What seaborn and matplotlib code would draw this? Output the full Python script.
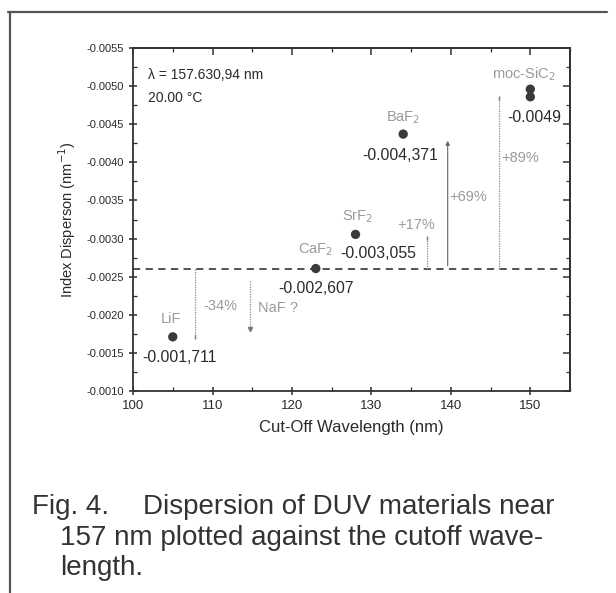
import matplotlib
matplotlib.use('Agg')
import matplotlib.pyplot as plt
from matplotlib.lines import Line2D
from matplotlib.ticker import MultipleLocator, FuncFormatter, NullFormatter
import seaborn as sns
import pandas as pd

# data
materials = ['LiF', 'CaF$_2$', 'SrF$_2$', 'BaF$_2$', 'moc-SiC$_2$', 'moc-SiC$_2$']
cutoff_nm = [105, 123, 128, 134, 150, 150]
dispersion = [-0.001711, -0.002607, -0.003055, -0.004371, -0.00496, -0.00486]
value_labels = ['-0.001,711', '-0.002,607', '-0.003,055', '-0.004,371', '-0.0049']

ref_level = -0.002607  # CaF2 reference line
change_x = [107.8, 114.7, 137.0, 139.6, 146.0]
change_start = [-0.002607, -0.00245, -0.002607, -0.002607, -0.002607]
change_end = [-0.00171, -0.00181, -0.00301, -0.00432, -0.00485]
change_text = ['-34%', 'NaF ?', '+17%', '+69%', '+89%']

df = pd.DataFrame({'material': materials, 'cutoff': cutoff_nm, 'disp': dispersion})

sns.set_style('ticks')
plt.rcParams['font.family'] = ['Liberation Sans', 'DejaVu Sans']
plt.rcParams['axes.unicode_minus'] = False

fig = plt.figure(figsize=(6.16, 5.93), dpi=100)
ax = fig.add_axes([0.216, 0.3406, 0.7094, 0.5784])

dark = '#2a2a2a'
grey = '#9a9a9a'

ax.axhline(ref_level, color='#444444', lw=1.3, ls=(0, (4, 3)), zorder=1)

for i, (x, y0, y1) in enumerate(zip(change_x, change_start, change_end)):
    if i == 3:
        ax.annotate('', xy=(x, y1), xytext=(x, y0),
                    arrowprops=dict(arrowstyle='-|>', color='#666666', lw=0.8, mutation_scale=6))
    else:
        ax.plot([x, x], [y0, y1], color='#888888', lw=0.9, ls=(0, (1, 1)), zorder=1)
        ax.plot([x], [y1], marker='|' if i != 1 else 'v', color='#777777', ms=3, zorder=1)

sns.scatterplot(data=df, x='cutoff', y='disp', ax=ax, color='#3a3a3a', s=45,
                edgecolor='none', legend=False, zorder=3)

ax.set_xlim(100, 155)
ax.set_ylim(-0.0010, -0.0055)
ax.xaxis.set_major_locator(MultipleLocator(10))
ax.xaxis.set_minor_locator(MultipleLocator(5))
ax.yaxis.set_major_locator(MultipleLocator(0.0005))
ax.yaxis.set_minor_locator(MultipleLocator(0.00025))
ax.yaxis.set_major_formatter(FuncFormatter(lambda v, p: f'{v:.4f}'))

ax.tick_params(axis='y', which='major', direction='inout', labelsize=8, colors=dark, length=6)
ax.tick_params(axis='y', which='minor', direction='in', length=3)
ax.tick_params(axis='x', which='major', direction='inout', labelsize=9.5, colors=dark, length=6)
ax.tick_params(axis='x', which='minor', direction='in', length=3)
ax.tick_params(which='major', width=1.1)
ax.tick_params(which='minor', width=0.9)
for sp in ax.spines.values():
    sp.set_visible(True)
    sp.set_linewidth(1.3)
    sp.set_color('#333333')

# mirrored ticks pointing inward on the top and right
sec_y = ax.secondary_yaxis('right')
sec_y.yaxis.set_major_locator(MultipleLocator(0.0005))
sec_y.yaxis.set_minor_locator(MultipleLocator(0.00025))
sec_y.yaxis.set_major_formatter(NullFormatter())
sec_y.tick_params(which='major', direction='in', length=5, width=1.1, colors='#333333')
sec_y.tick_params(which='minor', direction='in', length=3, width=0.9, colors='#333333')
sec_x = ax.secondary_xaxis('top')
sec_x.xaxis.set_major_locator(MultipleLocator(10))
sec_x.xaxis.set_minor_locator(MultipleLocator(5))
sec_x.xaxis.set_major_formatter(NullFormatter())
sec_x.tick_params(which='major', direction='in', length=5, width=1.1, colors='#333333')
sec_x.tick_params(which='minor', direction='in', length=3, width=0.9, colors='#333333')
for s in (sec_x, sec_y):
    for sp in s.spines.values():
        sp.set_linewidth(1.3)
        sp.set_color('#333333')

ax.set_xlabel('Cut-Off Wavelength (nm)', fontsize=12, color=dark, labelpad=6)
ax.set_ylabel('Index Disperson (nm$^{-1}$)', fontsize=10.5, color=dark, labelpad=6)

# text annotations
ax.text(101.9, -0.005146, '\u03bb = 157.630,94 nm', fontsize=10, color=dark, va='center')
ax.text(101.9, -0.004844, '20.00 \u00b0C', fontsize=10, color=dark, va='center')

lab_kw = dict(fontsize=10.5, color=grey, va='center')
ax.text(145.2, -0.005159, 'moc-SiC$_2$', **lab_kw)
ax.text(131.8, -0.004582, 'BaF$_2$', **lab_kw)
ax.text(126.3, -0.003283, 'SrF$_2$', **lab_kw)
ax.text(120.8, -0.002850, 'CaF$_2$', **lab_kw)
ax.text(103.5, -0.001945, 'LiF', **lab_kw)
ax.text(108.9, -0.002115, change_text[0], **lab_kw)
ax.text(115.7, -0.002089, change_text[1], **lab_kw)
ax.text(133.2, -0.003178, change_text[2], **lab_kw)
ax.text(139.8, -0.003545, change_text[3], **lab_kw)
ax.text(146.4, -0.004057, change_text[4], **lab_kw)

val_kw = dict(fontsize=11.3, color=dark, va='center')
ax.text(101.1, -0.001446, value_labels[0], **val_kw)
ax.text(118.25, -0.002351, value_labels[1], **val_kw)
ax.text(126.05, -0.002810, value_labels[2], **val_kw)
ax.text(128.9, -0.004096, value_labels[3], **val_kw)
ax.text(147.1, -0.004595, value_labels[4], **val_kw)

# outer frame of the scanned figure
fig.add_artist(Line2D([8 / 616, 607 / 616], [1 - 12 / 593, 1 - 12 / 593], color='#555555', lw=1.6))
fig.add_artist(Line2D([10 / 616, 10 / 616], [0.0, 1 - 12 / 593], color='#555555', lw=1.6))

cap_kw = dict(fontsize=20, color='#333333', va='center', ha='left')
fig.text(32 / 616, 1 - 507 / 593, 'Fig. 4.', **cap_kw)
fig.text(143 / 616, 1 - 507 / 593, 'Dispersion of DUV materials near', **cap_kw)
fig.text(60 / 616, 1 - 538 / 593, '157 nm plotted against the cutoff wave-', **cap_kw)
fig.text(60 / 616, 1 - 568 / 593, 'length.', **cap_kw)

fig.savefig('out.png', dpi=100, facecolor='white')
